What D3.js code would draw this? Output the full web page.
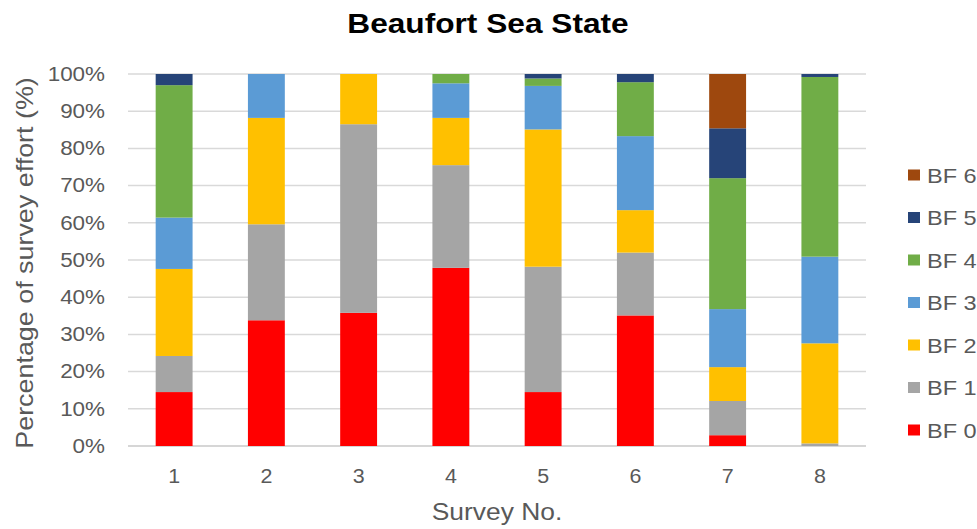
<!DOCTYPE html>
<html>
<head>
<meta charset="utf-8">
<script src="https://cdn.jsdelivr.net/npm/d3@7"></script>
<style>
  body { margin: 0; background: #fff; }
  text { font-family: "Liberation Sans", Arial, sans-serif; }
</style>
</head>
<body>
<svg width="977" height="529"></svg>
<script>
// survey numbers and Beaufort classes
var surveys = ["1", "2", "3", "4", "5", "6", "7", "8"];
var classes = ["BF 0", "BF 1", "BF 2", "BF 3", "BF 4", "BF 5", "BF 6"];
var colors = ["#ff0000", "#a5a5a5", "#ffc000", "#5b9bd5", "#70ad47", "#264478", "#9e480e"];

// percentage of effort per class, one value per survey
var bf0 = [14.5, 33.8, 35.8, 47.9, 14.5, 35.1, 2.9, 0];
var bf1 = [9.7, 25.8, 50.7, 27.6, 33.7, 16.9, 9.2, 0.7];
var bf2 = [23.4, 28.6, 13.5, 12.7, 36.9, 11.4, 9.1, 26.9];
var bf3 = [13.8, 11.8, 0, 9.3, 11.7, 19.9, 15.6, 23.3];
var bf4 = [35.6, 0, 0, 2.5, 2.0, 14.5, 35.2, 48.3];
var bf5 = [3.0, 0, 0, 0, 1.2, 2.2, 13.4, 0.8];
var bf6 = [0, 0, 0, 0, 0, 0, 14.6, 0];

var yTicks = [0, 10, 20, 30, 40, 50, 60, 70, 80, 90, 100];

var series = [bf0, bf1, bf2, bf3, bf4, bf5, bf6];
var rows = surveys.map(function(s, i) {
  var r = { survey: s };
  classes.forEach(function(c, j) { r[c] = series[j][i]; });
  return r;
});

// the source picture is a little wider than the fonts, so widen text to match
function stretch(sel, k) {
  sel.each(function() {
    var len = this.getComputedTextLength();
    d3.select(this).attr("textLength", len * k).attr("lengthAdjust", "spacingAndGlyphs");
  });
}

var svg = d3.select("svg");
var margin = { left: 128, right: 111, top: 74, bottom: 83 };
var width = 977 - margin.left - margin.right,
    height = 529 - margin.top - margin.bottom;

var g = svg.append("g").attr("transform", "translate(" + margin.left + "," + margin.top + ")");

var x = d3.scaleBand().domain(surveys).range([0, width]).paddingInner(0.6).paddingOuter(0.3);
var y = d3.scaleLinear().domain([0, 100]).range([height, 0]);

// gridlines
g.append("g").selectAll("line")
  .data(yTicks)
  .enter().append("line")
    .attr("x1", 0).attr("x2", width)
    .attr("y1", function(d) { return y(d); })
    .attr("y2", function(d) { return y(d); })
    .attr("stroke", function(d) { return d === 0 ? "#c8c8c8" : "#d9d9d9"; })
    .attr("stroke-width", 1.5);

var stack = d3.stack().keys(classes)(rows);

g.append("g").selectAll("g")
  .data(stack)
  .enter().append("g")
    .attr("fill", function(d, i) { return colors[i]; })
  .selectAll("rect")
  .data(function(d) { return d; })
  .enter().append("rect")
    .attr("x", function(d) { return x(d.data.survey); })
    .attr("width", x.bandwidth())
    .attr("y", function(d) { return y(d[1]); })
    .attr("height", function(d) { return y(d[0]) - y(d[1]); });

// y axis
var yAxis = g.append("g").call(d3.axisLeft(y).tickValues(yTicks).tickFormat(function(d) { return d + "%"; }).tickSize(0).tickPadding(23));
yAxis.select(".domain").remove();
yAxis.selectAll("text").attr("fill", "#595959").style("font-size", "19.5px").call(stretch, 1.15);

// x axis
var xAxis = g.append("g").attr("transform", "translate(0," + height + ")")
  .call(d3.axisBottom(x).tickSize(0).tickPadding(23));
xAxis.select(".domain").remove();
xAxis.selectAll("text").attr("fill", "#595959").style("font-size", "19.5px").call(stretch, 1.1);

// titles
svg.append("text")
  .attr("x", 488).attr("y", 33)
  .attr("text-anchor", "middle")
  .style("font-size", "28px").style("font-weight", "bold")
  .attr("fill", "#000")
  .text("Beaufort Sea State")
  .call(stretch, 1.13);

svg.append("text")
  .attr("x", margin.left + width / 2).attr("y", 520)
  .attr("text-anchor", "middle")
  .style("font-size", "24px")
  .attr("fill", "#595959")
  .text("Survey No.")
  .call(stretch, 1.1);

svg.append("text")
  .attr("transform", "translate(33,263) rotate(-90)")
  .attr("text-anchor", "middle")
  .style("font-size", "24px")
  .attr("fill", "#595959")
  .text("Percentage of survey effort (%)")
  .call(stretch, 1.12);

// legend, top to bottom BF 6 .. BF 0
var legend = svg.append("g").selectAll("g")
  .data(classes.slice().reverse())
  .enter().append("g")
    .attr("transform", function(d, i) { return "translate(908," + (175 + i * 42.5) + ")"; });

legend.append("rect")
  .attr("x", 0).attr("y", -5.5)
  .attr("width", 12).attr("height", 11)
  .attr("fill", function(d) { return colors[classes.indexOf(d)]; });

legend.append("text")
  .attr("x", 19).attr("y", 0)
  .attr("dy", "0.36em")
  .style("font-size", "21px")
  .attr("fill", "#595959")
  .text(function(d) { return d; })
  .call(stretch, 1.12);
</script>
</body>
</html>
